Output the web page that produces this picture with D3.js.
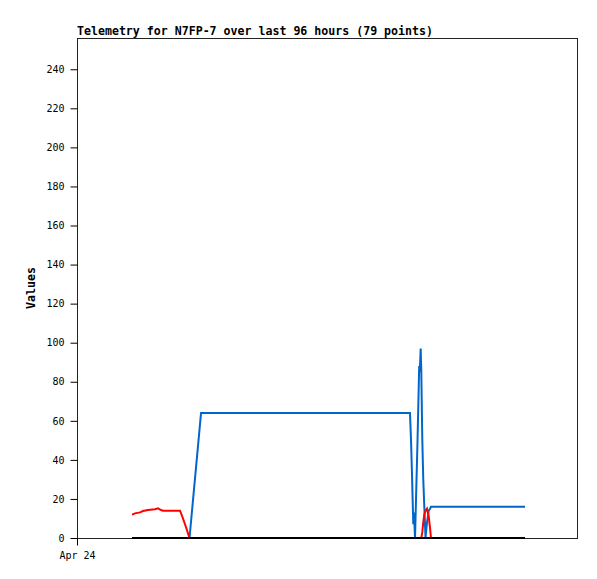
<!DOCTYPE html>
<html>
<head>
<meta charset="utf-8">
<script src="https://cdn.jsdelivr.net/npm/d3@7"></script>
<style>
  html, body { margin: 0; padding: 0; background: #fff; }
  svg { display: block; }
</style>
</head>
<body>
<svg id="chart" width="597" height="579"></svg>
<script>
// ---- Data ----
const titleText = "Telemetry for N7FP-7 over last 96 hours (79 points)";
const yLabel = "Values";
const startTime = new Date(2024, 3, 24, 0, 0, 0); // Apr 24
const spanHours = 96;
// hours after start for each sample
const hours = [10.56, 11.14, 12.10, 12.67, 13.63, 14.98, 15.55, 16.13, 16.51, 19.78,
  20.35, 20.93, 21.60, 23.81, 33.22, 42.82, 52.42, 62.02, 63.94, 64.13,
  64.32, 64.57, 64.70, 64.90, 65.38, 65.70, 65.82, 65.99, 66.10, 66.30,
  66.49, 66.68, 66.91, 67.20, 67.53, 67.78, 67.97, 68.16, 71.62, 77.38, 86.02];
const redValues = [12, 12.6, 13.1, 13.8, 14.3, 14.7, 15.2, 14.3, 14, 14,
  10, 5.5, 0, 0, 0, 0, 0, 0, 0, 0,
  0, 0, 0, 0, 0, 0, 0, 0, 0, 3,
  8, 12, 14, 15, 11, 5, 0, 0, 0, 0, 0];
const blueValues = [0, 0, 0, 0, 0, 0, 0, 0, 0, 0,
  0, 0, 0, 64, 64, 64, 64, 64, 64, 50,
  33, 7, 13, 0, 50, 88, 85, 97, 86, 50,
  30, 16, 0, 8, 14, 15, 16, 16, 16, 16, 16];
const blackValues = hours.map(() => 0);
const yTicks = [0, 20, 40, 60, 80, 100, 120, 140, 160, 180, 200, 220, 240];
const xTickLabels = ["Apr 24"];
const yMax = 256;

// ---- Layout ----
const svg = d3.select("#chart");
const margin = { left: 77, top: 38, right: 20, bottom: 41 };
const W = 597, H = 579;
const iw = W - margin.left - margin.right; // 500
const ih = H - margin.top - margin.bottom; // 500

const x = d3.scaleTime()
  .domain([startTime, d3.timeHour.offset(startTime, spanHours)])
  .range([margin.left, margin.left + iw]);
const y = d3.scaleLinear().domain([0, yMax]).range([margin.top + ih, margin.top]);

const mono = "'DejaVu Sans Mono', 'Liberation Mono', monospace";

// frame
svg.append("rect")
  .attr("x", margin.left + 0.5).attr("y", margin.top + 0.5)
  .attr("width", iw).attr("height", ih)
  .attr("fill", "none").attr("stroke", "#222").attr("stroke-width", 1);

// y axis
const yAxis = d3.axisLeft(y).tickValues(yTicks).tickSize(7).tickPadding(6).tickSizeOuter(0);
const gy = svg.append("g").attr("transform", `translate(${margin.left + 0.5},0)`).call(yAxis);
gy.select(".domain").remove();
gy.selectAll("text").attr("font-family", mono).attr("font-size", 10).attr("fill", "#000");
gy.selectAll("line").attr("stroke", "#000");

// x axis
const xAxis = d3.axisBottom(x).tickValues([startTime]).tickFormat((d, i) => xTickLabels[i])
  .tickSize(7).tickPadding(6).tickSizeOuter(0);
const gx = svg.append("g").attr("transform", `translate(0,${margin.top + ih + 0.5})`).call(xAxis);
gx.select(".domain").remove();
gx.selectAll("text").attr("font-family", mono).attr("font-size", 10).attr("fill", "#000");
gx.selectAll("line").attr("stroke", "#000");

// series
const pts = (vals) => hours.map((h, i) => [d3.timeMinute.offset(startTime, Math.round(h * 60)), vals[i]]);
const line = d3.line().x(d => x(d[0])).y(d => y(d[1]));

const series = [
  { vals: blueValues, color: "#0066cc", w: 2 },
  { vals: redValues, color: "#ff0000", w: 2 },
  { vals: blackValues, color: "#000000", w: 2 }
];
series.forEach(s => {
  svg.append("path")
    .datum(pts(s.vals))
    .attr("d", line)
    .attr("fill", "none")
    .attr("stroke", s.color)
    .attr("stroke-width", s.w)
    .attr("stroke-linejoin", "miter");
});

// title
svg.append("text")
  .attr("x", margin.left).attr("y", 35)
  .attr("font-family", mono).attr("font-size", 11.6).attr("font-weight", "bold")
  .text(titleText);

// y label
svg.append("text")
  .attr("transform", `translate(35,${margin.top + ih / 2}) rotate(-90)`)
  .attr("text-anchor", "middle")
  .attr("font-family", mono).attr("font-size", 11.6).attr("font-weight", "bold")
  .text(yLabel);
</script>
</body>
</html>
